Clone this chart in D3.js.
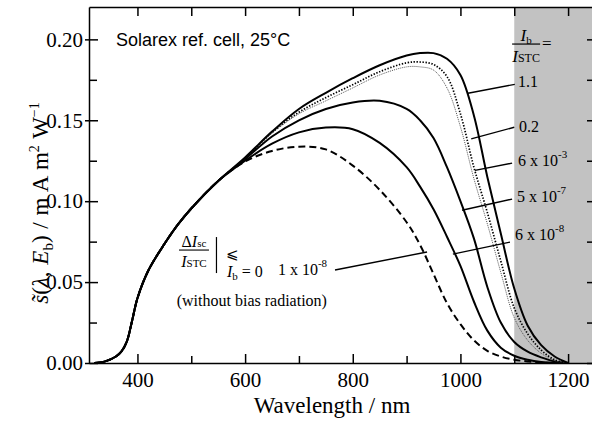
<!DOCTYPE html>
<html>
<head>
<meta charset="utf-8">
<script src="https://cdn.jsdelivr.net/npm/d3@7"></script>
<style>
  body { margin: 0; background: #fff; }
  text { font-family: "Liberation Serif", "DejaVu Serif", "Times New Roman", serif; fill: #000; }
  .sans { font-family: "Liberation Sans", Arial, sans-serif; }
  .axis path, .axis line { stroke: #000; stroke-width: 1.5; }
  .axis text { font-size: 21px; font-family: "Liberation Serif", "DejaVu Serif", "Times New Roman", serif; }
</style>
</head>
<body>
<script>

// wavelength grid (nm) shared by all curves
var wavelength = [320, 340, 360, 370, 380, 390, 400, 420, 450, 475, 500, 550,
                  600, 650, 700, 750, 800, 850, 900, 925, 950, 975, 1000, 1025,
                  1050, 1075, 1100, 1125, 1150, 1175, 1200];

// spectral responsivity, mA m^2 W^-1
var s_1_1 = [0, 0.001, 0.004, 0.007, 0.013, 0.026, 0.040, 0.057, 0.0735, 0.0855, 0.0955, 0.1125,
             0.127, 0.143, 0.157, 0.167, 0.176, 0.184, 0.190, 0.1915, 0.1915, 0.188, 0.178, 0.153,
             0.115, 0.080, 0.046, 0.023, 0.011, 0.004, 0];
var s_0_2 = [0, 0.001, 0.004, 0.007, 0.013, 0.026, 0.040, 0.057, 0.0735, 0.0855, 0.0955, 0.1125,
             0.1265, 0.1425, 0.155, 0.164, 0.172, 0.180, 0.1855, 0.186, 0.1845, 0.177, 0.154, 0.121,
             0.093, 0.063, 0.034, 0.018, 0.008, 0.002, 0];
var s_6e3 = [0, 0.001, 0.004, 0.007, 0.013, 0.026, 0.040, 0.057, 0.0735, 0.0855, 0.0955, 0.1125,
             0.1265, 0.142, 0.154, 0.162, 0.170, 0.178, 0.183, 0.183, 0.181, 0.170, 0.146, 0.114,
             0.086, 0.056, 0.028, 0.014, 0.006, 0.0015, 0];
var s_5e7 = [0, 0.001, 0.004, 0.007, 0.013, 0.026, 0.040, 0.057, 0.0735, 0.0855, 0.0955, 0.1125,
             0.126, 0.140, 0.150, 0.157, 0.161, 0.162, 0.157, 0.150, 0.139, 0.121, 0.100, 0.077,
             0.047, 0.025, 0.013, 0.007, 0.0035, 0.001, 0];
var s_6e8 = [0, 0.001, 0.004, 0.007, 0.013, 0.026, 0.040, 0.057, 0.0735, 0.0855, 0.0955, 0.1125,
             0.125, 0.1355, 0.1425, 0.1455, 0.1445, 0.136, 0.121, 0.109, 0.095, 0.078, 0.060, 0.038,
             0.020, 0.0095, 0.0045, 0.002, 0.0006, 0, 0];
var s_1e8 = [0, 0.001, 0.004, 0.007, 0.013, 0.026, 0.040, 0.057, 0.0735, 0.0855, 0.0955, 0.1125,
             0.1245, 0.131, 0.1337, 0.132, 0.122, 0.107, 0.087, 0.073, 0.055, 0.037, 0.024, 0.014,
             0.0075, 0.004, 0.002, 0.001, 0.0003, 0, 0];

// I_b / I_STC labels: mantissa, exponent ('' = none)
var ratioMantissa = ['1.1', '0.2', '6 x 10', '5 x 10', '6 x 10', '1 x 10'];
var ratioExponent = ['', '', '-3', '-7', '-8', '-8'];

// leader lines, [nm, value] on curve -> [nm, value] at label
var leaderFrom = [[1014, 0.1667], [1020, 0.1385], [1027, 0.119], [1003, 0.0944], [986, 0.0673], [767, 0.0575]];
var leaderTo   = [[1101, 0.1722], [1100, 0.1457], [1096, 0.1235], [1096, 0.1013], [1092, 0.0747], [938, 0.0686]];
var labelAt    = [[1107, 0.1705], [1109, 0.1427], [1107, 0.1217], [1105, 0.0998], [1101.5, 0.0760], [661, 0.0544]];

var xMajor = [400, 600, 800, 1000, 1200];
var xMinor = [500, 700, 900, 1100];
var yMajor = [0, 0.05, 0.10, 0.15, 0.20];
var yMinor = [0.025, 0.075, 0.125, 0.175];

var biasEdge = 1100;   // shaded region starts here (nm)

var series = [
  {values: s_1e8, kind: 'dash'},
  {values: s_6e8, kind: 'solid'},
  {values: s_5e7, kind: 'solid'},
  {values: s_6e3, kind: 'fine'},
  {values: s_0_2, kind: 'dots'},
  {values: s_1_1, kind: 'solid'}
];

var lineStyle = {
  solid: {stroke: '#000', width: 2, dash: null},
  dots:  {stroke: '#000', width: 1.7, dash: '1.4,1.6'},
  fine:  {stroke: '#555', width: 1, dash: '1,1'},
  dash:  {stroke: '#000', width: 2, dash: '7,4'}
};

var svg = d3.select('body').append('svg')
    .attr('width', 592)
    .attr('height', 423);

var x = d3.scaleLinear().domain([310, 1250]).range([89, 595]);
var y = d3.scaleLinear().domain([0, 0.22]).range([363, 7]);

// shaded area beyond 1100 nm
svg.append('rect')
    .attr('x', x(biasEdge))
    .attr('y', y(0.22))
    .attr('width', x(1250) - x(biasEdge))
    .attr('height', y(0) - y(0.22))
    .attr('fill', '#c2c2c2');

var line = d3.line()
    .x((d, i) => x(wavelength[i]))
    .y(d => y(Math.max(d, 0)))
    .curve(d3.curveCatmullRom.alpha(0.5));

svg.selectAll('.curve')
    .data(series)
    .enter().append('path')
    .attr('class', 'curve')
    .attr('d', d => line(d.values))
    .attr('fill', 'none')
    .attr('stroke', d => lineStyle[d.kind].stroke)
    .attr('stroke-width', d => lineStyle[d.kind].width)
    .attr('stroke-dasharray', d => lineStyle[d.kind].dash);

// leader lines
svg.selectAll('.leader')
    .data(leaderFrom)
    .enter().append('line')
    .attr('class', 'leader')
    .attr('x1', d => x(d[0])).attr('y1', d => y(d[1]))
    .attr('x2', (d, i) => x(leaderTo[i][0])).attr('y2', (d, i) => y(leaderTo[i][1]))
    .attr('stroke', '#000').attr('stroke-width', 1.4);

// axes
svg.append('g').attr('class', 'axis')
    .attr('transform', `translate(0,${y(0)})`)
    .call(d3.axisBottom(x).tickValues(xMajor).tickSize(-9).tickSizeOuter(0).tickPadding(9).tickFormat(d3.format('d')));
svg.append('g').attr('class', 'axis minor')
    .attr('transform', `translate(0,${y(0)})`)
    .call(d3.axisBottom(x).tickValues(xMinor).tickSize(-7).tickFormat(''));
svg.append('g').attr('class', 'axis')
    .attr('transform', `translate(0,${y(0.22)})`)
    .call(d3.axisTop(x).tickValues(xMajor.concat(xMinor)).tickSize(-9).tickSizeOuter(0).tickFormat(''));

svg.append('g').attr('class', 'axis')
    .attr('transform', `translate(${x(310)},0)`)
    .call(d3.axisLeft(y).tickValues(yMajor).tickSize(-9).tickSizeOuter(0).tickPadding(6).tickFormat(d3.format('.2f')));
svg.append('g').attr('class', 'axis minor')
    .attr('transform', `translate(${x(310)},0)`)
    .call(d3.axisLeft(y).tickValues(yMajor).tickSize(4).tickFormat(''));
svg.append('g').attr('class', 'axis minor')
    .attr('transform', `translate(${x(310)},0)`)
    .call(d3.axisLeft(y).tickValues(yMinor).tickSize(-8).tickFormat(''));
svg.append('g').attr('class', 'axis')
    .attr('transform', `translate(${x(1250)},0)`)
    .call(d3.axisRight(y).tickValues(yMajor.concat(yMinor)).tickSize(-8).tickSizeOuter(0).tickFormat(''));

svg.selectAll('.minor path').remove();

// axis titles
svg.append('text')
    .attr('x', (x(310) + 575) / 2)
    .attr('y', 413)
    .attr('text-anchor', 'middle')
    .attr('font-size', 23)
    .text('Wavelength / nm');

var yl = svg.append('text')
    .attr('transform', 'translate(48,203) rotate(-90)')
    .attr('text-anchor', 'middle')
    .attr('font-size', 23)
    .attr('word-spacing', 1);
yl.append('tspan').attr('font-style', 'italic').text('s\u0303');
yl.append('tspan').text('(');
yl.append('tspan').attr('font-style', 'italic').text('\u03bb');
yl.append('tspan').text(', ');
yl.append('tspan').attr('font-style', 'italic').text('E');
yl.append('tspan').attr('font-size', 15).attr('dy', 5).text('b');
yl.append('tspan').attr('dy', -5).text(') / m A m');
yl.append('tspan').attr('font-size', 14).attr('dy', -9).text('2');
yl.append('tspan').attr('dy', 9).text(' W');
yl.append('tspan').attr('font-size', 14).attr('dy', -9).text('\u22121');

// cell note
svg.append('text')
    .attr('class', 'sans')
    .attr('x', x(360)).attr('y', y(0.196))
    .attr('font-size', 18)
    .text('Solarex ref. cell, 25\u00b0C');

// ratio labels
svg.selectAll('.ratio')
    .data(ratioMantissa)
    .enter().append('text')
    .attr('class', 'ratio')
    .attr('x', (d, i) => x(labelAt[i][0]))
    .attr('y', (d, i) => y(labelAt[i][1]))
    .attr('font-size', 16)
    .each(function(d, i) {
        var t = d3.select(this);
        t.append('tspan').text(d);
        if (ratioExponent[i]) t.append('tspan').attr('font-size', 11).attr('dy', -8).text(ratioExponent[i]);
    });

// header fraction I_b / I_STC =
var hx = x(1122), hy = y(0.1971);
var hn = svg.append('text').attr('x', hx).attr('y', hy - 3.5).attr('text-anchor', 'middle').attr('font-size', 17);
hn.append('tspan').attr('font-style', 'italic').text('I');
hn.append('tspan').attr('font-size', 11).attr('dy', 3).text('b');
svg.append('line').attr('x1', hx - 14).attr('x2', hx + 14).attr('y1', hy).attr('y2', hy)
    .attr('stroke', '#000').attr('stroke-width', 1.2);
var hd = svg.append('text').attr('x', hx).attr('y', hy + 17.5).attr('text-anchor', 'middle').attr('font-size', 17);
hd.append('tspan').attr('font-style', 'italic').text('I');
hd.append('tspan').attr('font-size', 12).text('STC');
svg.append('text').attr('x', hx + 16).attr('y', hy + 5).attr('font-size', 17).text('=');

// Delta I_sc / I_STC | I_b = 0 <=
var fx = x(505), fy = y(0.0698);
var fn = svg.append('text').attr('x', fx).attr('y', fy - 3.5).attr('text-anchor', 'middle').attr('font-size', 16);
fn.append('tspan').text('\u0394');
fn.append('tspan').attr('font-style', 'italic').text('I');
fn.append('tspan').attr('font-size', 11).text('sc');
svg.append('line').attr('x1', fx - 15).attr('x2', fx + 15).attr('y1', fy).attr('y2', fy)
    .attr('stroke', '#000').attr('stroke-width', 1.1);
var fd = svg.append('text').attr('x', fx).attr('y', fy + 16.5).attr('text-anchor', 'middle').attr('font-size', 16);
fd.append('tspan').attr('font-style', 'italic').text('I');
fd.append('tspan').attr('font-size', 11).text('STC');
svg.append('line').attr('x1', fx + 22.5).attr('x2', fx + 22.5).attr('y1', fy - 13).attr('y2', fy + 23)
    .attr('stroke', '#000').attr('stroke-width', 1.2);
svg.append('text').attr('x', fx + 32).attr('y', fy + 9).attr('font-size', 15).text('\u2a7d');
var fb = svg.append('text').attr('x', fx + 33).attr('y', fy + 27).attr('font-size', 16);
fb.append('tspan').attr('font-style', 'italic').text('I');
fb.append('tspan').attr('font-size', 11).attr('dy', 3).text('b');
fb.append('tspan').attr('dy', -3).text(' = 0');

svg.append('text')
    .attr('x', x(473)).attr('y', y(0.0352))
    .attr('font-size', 16)
    .text('(without bias radiation)');

</script>
</body>
</html>
